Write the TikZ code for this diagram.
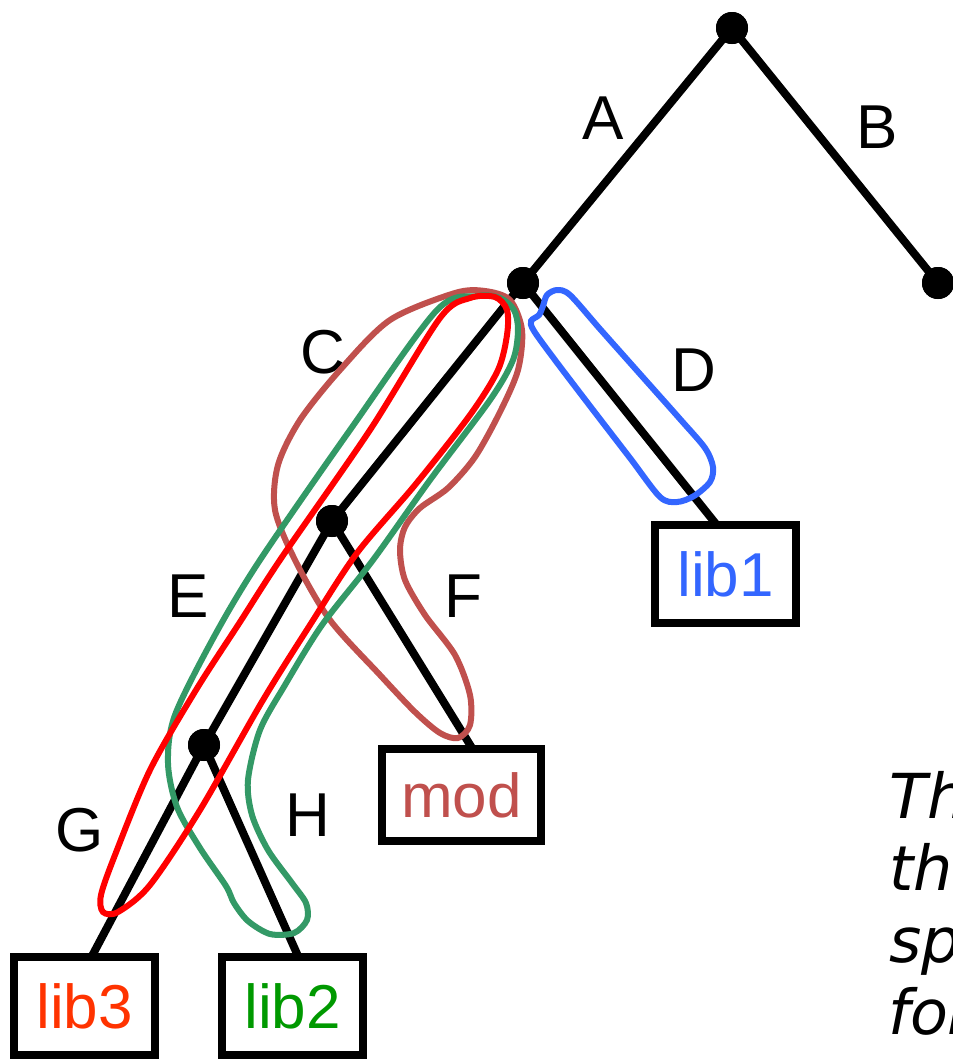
\documentclass[tikz,border=0pt]{standalone}
\usepackage{fontspec}
\setmainfont{Liberation Sans}
\newfontfamily\oblfont{DejaVu Sans}
\definecolor{cblue}{RGB}{51,102,255}
\definecolor{cbrown}{RGB}{192,80,77}
\definecolor{cred}{RGB}{255,0,0}
\definecolor{cgreen}{RGB}{51,153,102}
\definecolor{corange}{RGB}{255,51,0}
\definecolor{cdgreen}{RGB}{0,153,0}
\begin{document}
\begin{tikzpicture}[x=1pt,y=-1pt,
  dot/.style={circle,fill=black,inner sep=0pt,minimum size=32pt},
  edge/.style={line width=8pt},
  box/.style={draw,line width=7.5pt,fill=white,minimum width=141pt,minimum height=98pt,inner sep=0pt,font=\fontsize{62}{74}\selectfont},
  lbl/.style={inner sep=0pt,font=\fontsize{62}{74}\selectfont},
  hull/.style={line width=6pt},
  note/.style={anchor=base west,inner sep=0pt,font=\oblfont\itshape\fontsize{62}{72}\selectfont}]
\useasboundingbox (0,0) rectangle (953,1061);
\clip (0,0) rectangle (953,1061);
\fill[white] (0,0) rectangle (953,1061);
% tree nodes
\node[dot] (root) at (732,28) {};
\node[dot] (nA) at (523,283) {};
\node[dot] (nB) at (938,283) {};
\node[dot] (nC) at (332,521) {};
\node[dot] (nE) at (204,745) {};
\coordinate (l1t) at (716,524);
\coordinate (mdt) at (472,748);
\coordinate (l3t) at (92,956);
\coordinate (l2t) at (298,956);
% edges
\draw[edge] (root.center) -- (nA.center);
\draw[edge] (root.center) -- (nB.center);
\draw[edge] (nA.center) -- (nC.center);
\draw[edge] (nA.center) -- (l1t);
\draw[edge] (nC.center) -- (nE.center);
\draw[edge] (nC.center) -- (mdt);
\draw[edge] (nE.center) -- (l3t);
\draw[edge] (nE.center) -- (l2t);
% boxes
\node[box,text=cblue] (lib1) at (725.5,574) {lib1};
\node[box,minimum width=159pt,minimum height=92pt,text=cbrown] (mod) at (461.5,795) {mod};
\node[box,text=corange] (lib3) at (84.5,1006) {lib3};
\node[box,text=cdgreen] (lib2) at (292.5,1006) {lib2};
% dots on top
\node[dot] at (root) {};
\node[dot] at (nA) {};
\node[dot] at (nB) {};
\node[dot] at (nC) {};
\node[dot] at (nE) {};
% labels
\node[lbl] (la) at (603,118) {A};
\node[lbl] (lb) at (877,127) {B};
\node[lbl] (lc) at (323,352) {C};
\node[lbl] (ld) at (694,370) {D};
\node[lbl] (le) at (188,596) {E};
\node[lbl] (lf) at (463,596) {F};
\node[lbl] (lg) at (80,830) {G};
\node[lbl] (lh) at (308,815) {H};
% hulls
\draw[hull,cbrown] plot[smooth cycle] coordinates {(455,293) (485,291) (510,300) (522,330) (518,370) (500,412) (475,457) (448,488) (420,508) (405,527) (400,550) (405,580) (425,615) (455,655) (470,695) (470,725) (458,738) (440,733) (415,712) (380,675) (330,620) (295,560) (275,510) (278,465) (300,420) (340,370) (390,320)};
\draw[hull,cgreen] plot[smooth cycle] coordinates {(478,296) (500,298) (514,310) (518,330) (513,360) (490,400) (430,480) (373,560) (322,625) (285,685) (260,730) (248,780) (252,815) (268,850) (292,883) (306,903) (307,920) (294,933) (270,934) (248,921) (234,903) (226,886) (200,848) (177,807) (168,763) (175,715) (215,635) (260,560) (350,430) (437,310)};
\draw[hull,cred] plot[smooth cycle] coordinates {(470,298) (495,297) (507,310) (507,335) (498,370) (470,415) (415,485) (357,553) (310,625) (263,700) (200,810) (150,885) (118,912) (103,912) (101,895) (115,855) (150,770) (196,690) (240,622) (282,557) (370,430) (440,318)};
\draw[hull,cblue] plot[smooth cycle] coordinates {(543,306) (547,295) (557,290) (570,295) (600,329) (640,374) (680,419) (705,448) (713,467) (710,482) (694,496) (677,502) (660,497) (630,458) (590,406) (555,360) (534,331) (531,321) (539,315)};
% cut-off note
\node[note] (t1) at (889,818) {This};
\node[note] (t2) at (889,890) {the};
\node[note] (t3) at (889,962) {spe};
\node[note] (t4) at (888,1034) {for};
\end{tikzpicture}
\end{document}
